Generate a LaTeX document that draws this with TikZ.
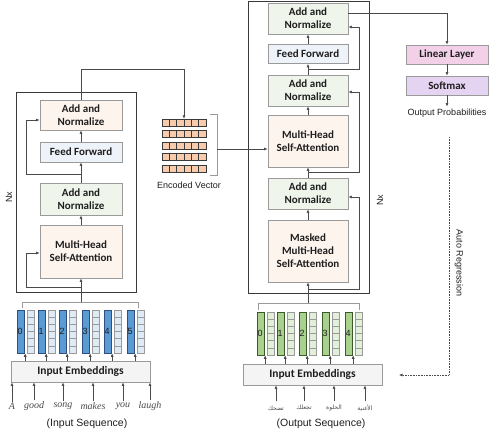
\documentclass[tikz,border=0pt]{standalone}
\usepackage{fontspec}
\setmainfont{Liberation Sans}
\newfontfamily\calfont{Carlito}
\newfontfamily\handfont{Liberation Serif}
\newfontfamily\arabicfont[Script=Arabic]{DejaVu Sans}
\TeXXeTstate=1
\usetikzlibrary{arrows.meta}
\definecolor{txt}{HTML}{1E1E1E}
\definecolor{bordgray}{HTML}{9A9A9A}
\definecolor{outergray}{HTML}{3A3A3A}
\definecolor{linegray}{HTML}{4A4A4A}
\definecolor{orfill}{HTML}{FDF4EE}
\definecolor{grfill}{HTML}{F0F5EC}
\definecolor{blfill}{HTML}{EEF3FA}
\definecolor{pinkfill}{HTML}{F2D0E8}
\definecolor{lavfill}{HTML}{E5D3F2}
\definecolor{embfill}{HTML}{F4F4F4}
\definecolor{evfill}{HTML}{F8CBAD}
\definecolor{bluebar}{HTML}{5B9BD5}
\definecolor{bluebarb}{HTML}{2F4F7F}
\definecolor{bluegrid}{HTML}{DEEBF7}
\definecolor{greenbar}{HTML}{A9D18E}
\definecolor{greenbarb}{HTML}{3B5A2A}
\definecolor{greengrid}{HTML}{E2F0D9}
\tikzset{
  blk/.style={draw=bordgray, line width=0.7pt, align=center, text=txt, inner sep=1pt,
    font=\calfont\bfseries\fontsize{11}{13}\selectfont},
  outerbox/.style={draw=outergray, line width=0.9pt, inner sep=0pt},
  lbl/.style={text=txt, inner sep=2pt, font=\fontsize{9}{11}\selectfont},
  arr/.style={draw=linegray, line width=0.6pt, -{Latex[length=3.5pt,width=3pt]}},
  brk/.style={draw=bordgray, line width=0.9pt},
  arrdot/.style={draw=linegray, line width=0.6pt, densely dotted, -{Latex[length=3.5pt,width=3pt]}},
  evcell/.style={draw=outergray, line width=0.5pt, fill=evfill},
  hand/.style={text=txt!80, inner sep=1pt, font=\handfont\itshape\fontsize{10}{12}\selectfont},
  arab/.style={text=txt!80, inner sep=1pt, font=\arabicfont\fontsize{6}{8}\selectfont},
}
\begin{document}
\begin{tikzpicture}[x=1pt,y=-1pt]
\useasboundingbox (0,0) rectangle (498,436);

% ================= Encoder =================
\node[outerbox, minimum width=120pt, minimum height=200pt] (encbox) at (76,192) {};
\node[blk, fill=orfill, minimum width=82pt, minimum height=30pt] (eAN1) at (81,115) {Add and\\Normalize};
\node[blk, fill=blfill, minimum width=82pt, minimum height=20pt] (eFF) at (81,152) {Feed Forward};
\node[blk, fill=grfill, minimum width=82pt, minimum height=32pt] (eAN2) at (81,199) {Add and\\Normalize};
\node[blk, fill=orfill, minimum width=82pt, minimum height=53pt] (eMH) at (81,251.5) {Multi-Head\\Self-Attention};
\node[lbl, rotate=90] (eNx) at (9,197) {Nx};

\draw[arr] (eMH) -- (eAN2);
\draw[arr] (eAN2) -- (eFF);
\draw[arr] (eFF) -- (eAN1);
\coordinate (eR1) at (81,287);
\draw[arr] (eR1) -- (26,287) -- (26,253) -- (eMH.west |- 26,253);
\coordinate (eR2) at (81,174);
\draw[arr] (eR2) -- (26,174) -- (26,120) -- (eAN1.west |- 26,120);

% encoder embeddings
\node[blk, fill=embfill, draw=bordgray, minimum width=139pt, minimum height=21pt,
  font=\calfont\bfseries\fontsize{11.5}{13}\selectfont] (eEmb) at (80.5,371.5) {Input Embeddings};
\draw[brk] (22,308) -- (22,302) -- (138,302) -- (138,308);
\coordinate (eBr) at (81,302);
\draw[arr] (eBr) -- (eMH);
\foreach \x [count=\i from 0] in {17,38,59,82,104,127} {
  \node[draw=bluebarb, fill=bluebar, line width=0.6pt, minimum width=7pt, minimum height=43pt, inner sep=0pt] (eb\i) at (\x+3.5,331.5) {};
  \node[draw=bordgray, fill=bluegrid, line width=0.6pt, minimum width=7pt, minimum height=43pt, inner sep=0pt] (eg\i) at (\x+13.5,331.5) {};
  \foreach \k in {1,...,5} \draw[draw=bordgray, line width=0.5pt] (\x+10,310+\k*7.17) -- (\x+17,310+\k*7.17);
  \node[text=txt, inner sep=0pt, anchor=west, font=\fontsize{9}{10}\selectfont] (en\i) at (\x+0.3,331) {\i};
  \draw[arr] ([xshift=-1.5pt]eg\i.south west |- eEmb.north) -- ([xshift=-1.5pt]eg\i.south west);
}
% input words
\node[hand] (w1) at (12,406) {A};
\node[hand] (w2) at (34,406) {good};
\node[hand] (w3) at (63,406) {song};
\node[hand] (w4) at (93,406) {makes};
\node[hand] (w5) at (123,406) {you};
\node[hand] (w6) at (150,406) {laugh};
\foreach \w in {w1,w2,w3,w4,w5,w6} \draw[arr] (\w.north) -- (\w.north |- eEmb.south);
\node[lbl, font=\fontsize{10.5}{12}\selectfont] (inseq) at (87,424) {(Input Sequence)};

% encoder output / encoded vector
\node[inner sep=0pt, minimum width=44pt, minimum height=53pt] (ev) at (184,145.5) {};
\foreach \r in {0,...,4} \foreach \c in {0,...,5}
  \draw[evcell] (162+\c*7.333,119+\r*11.5) rectangle ++(7.333,7);
\draw[arr] (eAN1) -- (81,69) -- (184,69) -- (ev.north);
\draw[brk] (210,114) -- (217,114) -- (217,175) -- (210,175);
\node[lbl] (evl) at (189,185) {Encoded Vector};

% ================= Decoder =================
\node[outerbox, minimum width=121pt, minimum height=292pt] (decbox) at (308.5,147) {};
\node[blk, fill=grfill, minimum width=80pt, minimum height=31pt] (dAN1) at (308,18.5) {Add and\\Normalize};
\node[blk, fill=blfill, minimum width=80pt, minimum height=19pt] (dFF) at (308,54) {Feed Forward};
\node[blk, fill=grfill, minimum width=80pt, minimum height=31pt] (dAN2) at (308,90.5) {Add and\\Normalize};
\node[blk, fill=orfill, minimum width=80pt, minimum height=52pt] (dMH) at (308,141) {Multi-Head\\Self-Attention};
\node[blk, fill=grfill, minimum width=80pt, minimum height=31pt] (dAN3) at (308,193.5) {Add and\\Normalize};
\node[blk, fill=orfill, minimum width=80pt, minimum height=62pt] (dMMH) at (308,251) {Masked\\Multi-Head\\Self-Attention};
\node[lbl, rotate=90] (dNx) at (380,200) {Nx};

\draw[arr] (dMMH) -- (dAN3);
\draw[arr] (dAN3) -- (dMH);
\draw[arr] (dMH) -- (dAN2);
\draw[arr] (dAN2) -- (dFF);
\draw[arr] (dFF) -- (dAN1);
\coordinate (dR1) at (308,289);
\draw[arr] (dR1) -- (359,289) -- (359,197) -- (dAN3.east |- 359,197);
\coordinate (dR2) at (308,172);
\draw[arr] (dR2) -- (359,172) -- (359,92) -- (dAN2.east |- 359,92);
\coordinate (dR3) at (308,69);
\draw[arr] (dR3) -- (359,69) -- (359,27) -- (dAN1.east |- 359,27);

\coordinate (evout) at (217,149);
\draw[arr] (evout) -- (dMH.west |- evout);

% decoder embeddings
\node[blk, fill=embfill, draw=bordgray, minimum width=139pt, minimum height=21pt,
  font=\calfont\bfseries\fontsize{11.5}{13}\selectfont] (dEmb) at (312.5,374.5) {Input Embeddings};
\draw[brk] (258,310) -- (258,303) -- (359,303) -- (359,310);
\coordinate (dBr) at (308,303);
\draw[arr] (dBr) -- (dMMH);
\foreach \x [count=\i from 0] in {257,277,299,322,345} {
  \node[draw=greenbarb, fill=greenbar, line width=0.6pt, minimum width=7pt, minimum height=43pt, inner sep=0pt] (db\i) at (\x+3.5,333.5) {};
  \node[draw=bordgray, fill=greengrid, line width=0.6pt, minimum width=7pt, minimum height=43pt, inner sep=0pt] (dg\i) at (\x+13.5,333.5) {};
  \foreach \k in {1,...,5} \draw[draw=bordgray, line width=0.5pt] (\x+10,312+\k*7.17) -- (\x+17,312+\k*7.17);
  \node[text=txt, inner sep=0pt, anchor=west, font=\fontsize{9}{10}\selectfont] (dn\i) at (\x+0.3,333) {\i};
  \draw[arr] ([xshift=-1.5pt]dg\i.south west |- dEmb.north) -- ([xshift=-1.5pt]dg\i.south west);
}
\node[arab] (a1) at (276,408) {\beginR تضحك\endR};
\node[arab] (a2) at (304,408) {\beginR تجعلك\endR};
\node[arab] (a3) at (334,408) {\beginR الحلوة\endR};
\node[arab] (a4) at (365,408) {\beginR الأغنية\endR};
\foreach \w in {a1,a2,a3,a4} \draw[arr] ([yshift=3pt]\w.north) -- (\w.north |- dEmb.south);
\node[lbl, font=\fontsize{10.5}{12}\selectfont] (outseq) at (321,424) {(Output Sequence)};

% ================= Output head =================
\node[blk, fill=pinkfill, minimum width=82pt, minimum height=19pt] (lin) at (447,54.5) {Linear Layer};
\node[blk, fill=lavfill, minimum width=82pt, minimum height=19pt] (smax) at (447,85.5) {Softmax};
\node[lbl] (outp) at (447,113) {Output Probabilities};
\draw[arr] (dAN1.east |- 0,13) -- (447,13) -- (lin);
\draw[arr] (lin) -- (smax);
\draw[arr] (smax) -- (outp);

% auto regression
\coordinate (arS) at (449,137);
\coordinate (arE) at (399,375);
\draw[arrdot] (arS) -- (449,375) -- (arE);
\node[lbl, rotate=-90] (arl) at (459,263) {Auto Regression};
\end{tikzpicture}
\end{document}
